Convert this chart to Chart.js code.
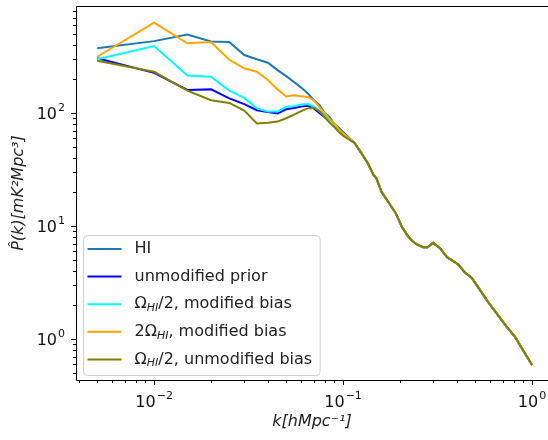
<!DOCTYPE html>
<html>
<head>
<meta charset="utf-8">
<script src="https://cdn.jsdelivr.net/npm/chart.js@4.4.1/dist/chart.umd.min.js"></script>
<style>
html,body{margin:0;padding:0;background:#fff;}
</style>
</head>
<body>
<canvas id="grafica" width="548" height="440"></canvas>
<script>
// k bins (h/Mpc) where the curves still differ
const kLow = [0.005,0.01,0.015,0.02,0.025,0.03,0.035,0.04,0.045,0.05,
              0.055,0.06,0.065,0.07,0.075,0.08,0.085,0.09,0.095,0.1];
const pHI       = [374,433,495,430,425,326,299,279,240,212,188,168,150,130,118,100,92,80,74,68];
const pPrior    = [305,227,160,162,135,120,106,102,99,108,111,114,116,110,100,92,84,77,70,65];
const pHalfMod  = [299,392,215,210,158,136,110,103,103,114,115,119,120,114,104,96,85,78,70,66];
const pTwoMod   = [315,630,414,426,296,249,232,196,162,140,144,141,139,130,113,100,88,81,72,66];
const pHalfUnm  = [290,232,158,130,123,105,81,82,84,90,97,104,110,111,104,92,82,75,68,63];

// above k~0.1 all five curves lie on top of each other
const kTail = [0.115,0.125,0.135,0.145,0.15,0.16,0.175,0.19,0.205,0.22,0.23,0.245,0.265,0.28,
               0.3,0.325,0.355,0.39,0.41,0.44,0.48,0.53,0.585,0.66,0.735,0.815,0.895,1.0];
const pTail = [54.3,44.2,36.1,28.3,26.5,20.0,16.0,13.0,9.8,8.2,7.5,6.9,6.5,6.5,
               7.1,6.4,5.3,4.8,4.5,3.9,3.47,2.72,2.13,1.63,1.28,1.04,0.80,0.59];

const etiquetas = ['HI','unmodified prior','Ω_{HI}/2, modified bias','2Ω_{HI}, modified bias','Ω_{HI}/2, unmodified bias'];
const colores = ['#1f77b4','#0000ff','#00ffff','#ffa500','#808000'];
const series = [pHI,pPrior,pHalfMod,pTwoMod,pHalfUnm];

const xTickVals = [0.01,0.1,1];
const xTickExp = ['−2','−1','0'];
const yTickVals = [1,10,100];
const yTickExp = ['0','1','2'];

const fuente = 'DejaVu Sans';

function puntos(p){
    let d = kLow.map((k,i)=>({x:k,y:p[i]}));
    return d.concat(kTail.map((k,i)=>({x:k,y:pTail[i]})));
}

function menores(min,max){
    let v=[];
    for(let d=0.0001; d<=1000; d*=10){
        for(let m=2;m<=9;m++){
            let t=m*d;
            if(t>=min && t<=max) v.push(t);
        }
    }
    return v;
}

function textoRico(ctx,txt,x,y){
    let partes = txt.split(/(_\{[^}]*\})/);
    for(const p of partes){
        if(!p) continue;
        if(p.startsWith('_{')){
            let s=p.slice(2,-1);
            ctx.font='italic 11px "'+fuente+'"';
            ctx.fillText(s,x,y+4);
            x+=ctx.measureText(s).width;
        }else{
            ctx.font='16px "'+fuente+'"';
            ctx.fillText(p,x,y);
            x+=ctx.measureText(p).width;
        }
    }
    return x;
}

// "10" with a raised exponent; align: 'center' or 'right'
function potencia(ctx,exp,x,base,align){
    ctx.font='16px "'+fuente+'"';
    let w1=ctx.measureText('10').width;
    ctx.font='11px "'+fuente+'"';
    let w2=ctx.measureText(exp).width;
    let x0 = align==='right' ? x-w1-w2-1 : x-(w1+w2+1)/2;
    ctx.textAlign='left';
    ctx.textBaseline='alphabetic';
    ctx.font='16px "'+fuente+'"';
    ctx.fillText('10',x0,base);
    ctx.font='11px "'+fuente+'"';
    ctx.fillText(exp,x0+w1+1,base-8);
}

const marco = {
    id:'marco',
    afterDraw(chart){
        const ctx=chart.ctx, ca=chart.chartArea;
        const sx=chart.scales.x, sy=chart.scales.y;
        ctx.save();
        ctx.strokeStyle='#000';
        ctx.lineWidth=1;
        // frame
        ctx.beginPath();
        ctx.moveTo(ca.right+0.5,ca.top+0.5);
        ctx.lineTo(ca.left+0.5,ca.top+0.5);
        ctx.lineTo(ca.left+0.5,ca.bottom+0.5);
        ctx.lineTo(ca.right+0.5,ca.bottom+0.5);
        ctx.stroke();
        // ticks
        ctx.beginPath();
        xTickVals.forEach(v=>{let px=Math.round(sx.getPixelForValue(v))+0.5; ctx.moveTo(px,ca.bottom); ctx.lineTo(px,ca.bottom+5);});
        menores(sx.min,sx.max).forEach(v=>{let px=Math.round(sx.getPixelForValue(v))+0.5; ctx.moveTo(px,ca.bottom); ctx.lineTo(px,ca.bottom+3);});
        yTickVals.forEach(v=>{let py=Math.round(sy.getPixelForValue(v))+0.5; ctx.moveTo(ca.left,py); ctx.lineTo(ca.left-5,py);});
        menores(sy.min,sy.max).forEach(v=>{let py=Math.round(sy.getPixelForValue(v))+0.5; ctx.moveTo(ca.left,py); ctx.lineTo(ca.left-3,py);});
        ctx.stroke();
        // tick labels
        ctx.fillStyle='#111';
        xTickVals.forEach((v,i)=>potencia(ctx,xTickExp[i],sx.getPixelForValue(v),ca.bottom+27,'center'));
        yTickVals.forEach((v,i)=>potencia(ctx,yTickExp[i],ca.left-11,sy.getPixelForValue(v)+6,'right'));

        // legend
        let maxW=0;
        ctx.textBaseline='middle';
        etiquetas.forEach(t=>{
            let w=0;
            t.split(/(_\{[^}]*\})/).forEach(p=>{
                if(!p) return;
                if(p.startsWith('_{')){ctx.font='italic 11px "'+fuente+'"'; w+=ctx.measureText(p.slice(2,-1)).width;}
                else {ctx.font='16px "'+fuente+'"'; w+=ctx.measureText(p).width;}
            });
            maxW=Math.max(maxW,w);
        });
        const bx=ca.left+7.5, bh=140, by=ca.bottom-4.5-bh, bw=51+maxW+8;
        ctx.beginPath();
        ctx.roundRect(bx,by,bw,bh,4);
        ctx.fillStyle='rgba(255,255,255,0.8)';
        ctx.fill();
        ctx.strokeStyle='#d0d0d0';
        ctx.stroke();
        etiquetas.forEach((t,i)=>{
            let y=by+13.5+i*27.6;
            ctx.strokeStyle=colores[i];
            ctx.lineWidth=2;
            ctx.beginPath();
            ctx.moveTo(bx+4,y); ctx.lineTo(bx+38,y);
            ctx.stroke();
            ctx.fillStyle='#222';
            textoRico(ctx,t,bx+51,y);
        });
        ctx.restore();
    }
};

const grafica = new Chart(document.getElementById('grafica'),{
    type:'line',
    data:{
        datasets: series.map((p,i)=>({
            label: etiquetas[i],
            data: puntos(p),
            borderColor: colores[i],
            borderWidth: 2,
            pointRadius: 0,
            tension: 0,
            fill: false,
            order: series.length-i
        }))
    },
    options:{
        responsive:false,
        animation:false,
        layout:{padding:{top:6,right:0,left:0,bottom:0}},
        plugins:{legend:{display:false},tooltip:{enabled:false}},
        scales:{
            x:{
                type:'logarithmic',
                min:0.00386, max:1.215,
                border:{display:false},
                grid:{display:false,drawTicks:false},
                afterBuildTicks(s){ s.ticks = xTickVals.map(v=>({value:v})); },
                afterFit(s){ s.height=60; s.paddingLeft=0; s.paddingRight=0; },
                ticks:{display:false},
                title:{display:true,text:'k[hMpc⁻¹]',color:'#222',
                       font:{family:fuente,size:16,style:'italic'},padding:{top:0,bottom:9}}
            },
            y:{
                type:'logarithmic',
                min:0.434, max:886,
                border:{display:false},
                grid:{display:false,drawTicks:false},
                afterBuildTicks(s){ s.ticks = yTickVals.map(v=>({value:v})); },
                afterFit(s){ s.width=76; s.paddingTop=0; s.paddingBottom=0; },
                ticks:{display:false},
                title:{display:true,text:'P̂(k)[mK²Mpc³]',color:'#222',
                       font:{family:fuente,size:16,style:'italic'},padding:{top:9,bottom:0}}
            }
        }
    },
    plugins:[marco]
});
</script>
</body>
</html>
